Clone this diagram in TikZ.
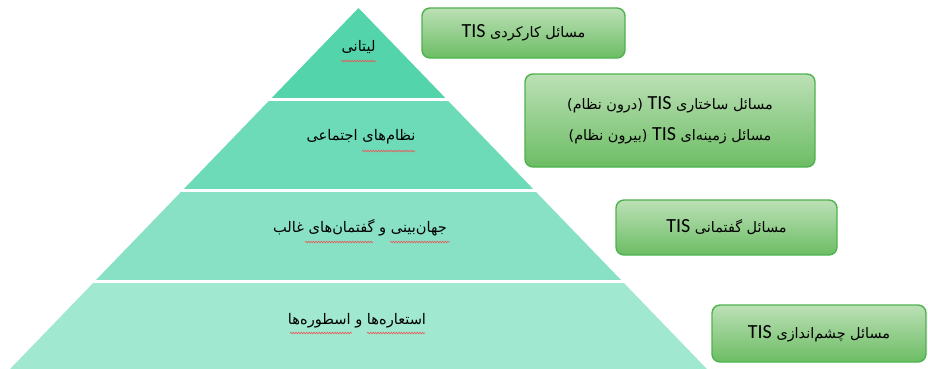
\documentclass[tikz,border=0pt]{standalone}
\usepackage{fontspec}
\TeXXeTstate=1
\newfontfamily\fa[Script=Arabic]{DejaVu Sans}
\newfontfamily\lat{Carlito}
\usetikzlibrary{decorations.pathmorphing}
\definecolor{layA}{RGB}{84,212,170}
\definecolor{layB}{RGB}{110,219,184}
\definecolor{layC}{RGB}{137,225,197}
\definecolor{layD}{RGB}{160,232,208}
\definecolor{boxtop}{RGB}{188,224,182}
\definecolor{boxbot}{RGB}{108,189,100}
\definecolor{boxline}{RGB}{78,178,78}
\definecolor{squigred}{RGB}{230,90,90}
\tikzset{
  tisbox/.style={draw=boxline, line width=1.4pt, rounded corners=8pt,
    top color=boxtop, bottom color=boxbot, inner sep=0pt, align=center},
  laylabel/.style={inner sep=0pt, font=\fa\fontsize{14.6}{16}\selectfont},
  squig/.style={draw=squigred, line width=0.6pt,
    decorate, decoration={snake, segment length=2.6pt, amplitude=0.8pt}}
}
\newcommand{\tis}{\beginL{\lat\fontsize{20}{24}\selectfont TIS}\endL}
\newcommand{\bfa}{\fa\fontsize{14.4}{16}\selectfont}
\begin{document}
\begin{tikzpicture}[x=1pt,y=-1pt]
\useasboundingbox (0,0) rectangle (928,368);
% pyramid
\begin{scope}
  \clip (358.5,8) -- (7.2,372) -- (709.8,372) -- cycle;
  \fill[layA] (0,0) rectangle (928,97.5);
  \fill[layB] (0,100.5) rectangle (928,188.5);
  \fill[layC] (0,191.5) rectangle (928,279.5);
  \fill[layD] (0,282.5) rectangle (928,372);
\end{scope}
% layer labels
\node[laylabel] (l1) at (358.5,47) {\beginR لیتانی\endR};
\node[laylabel] (l2) at (361,137) {\beginR نظام‌های اجتماعی\endR};
\node[laylabel] (l3) at (360,228) {\beginR جهان‌بینی و گفتمان‌های غالب\endR};
\node[laylabel] (l4) at (357,321) {\beginR استعاره‌ها و اسطوره‌ها\endR};
% spell-check marks
\draw[squig] (341,61) -- (376,61);
\draw[squig] (362,151) -- (415,151);
\draw[squig] (305,242) -- (373,242);
\draw[squig] (390,242) -- (450,242);
\draw[squig] (290,333) -- (352,333);
\draw[squig] (367,333) -- (425,333);
% boxes
\node[tisbox, minimum width=203, minimum height=50] (b1) at (523.5,33)
  {\bfa\beginR مسائل کارکردی \tis\endR};
\node[tisbox, minimum width=290, minimum height=93] (b2) at (670,120.5)
  {\bfa\beginR مسائل ساختاری \tis{} (درون نظام)\endR\\[13pt]
   \bfa\beginR مسائل زمینه‌ای \tis{} (بیرون نظام)\endR};
\node[tisbox, minimum width=221, minimum height=55] (b3) at (726.5,227.5)
  {\bfa\beginR مسائل گفتمانی \tis\endR};
\node[tisbox, minimum width=214, minimum height=57] (b4) at (819,333.5)
  {\bfa\beginR مسائل چشم‌اندازی \tis\endR};
\end{tikzpicture}
\end{document}
